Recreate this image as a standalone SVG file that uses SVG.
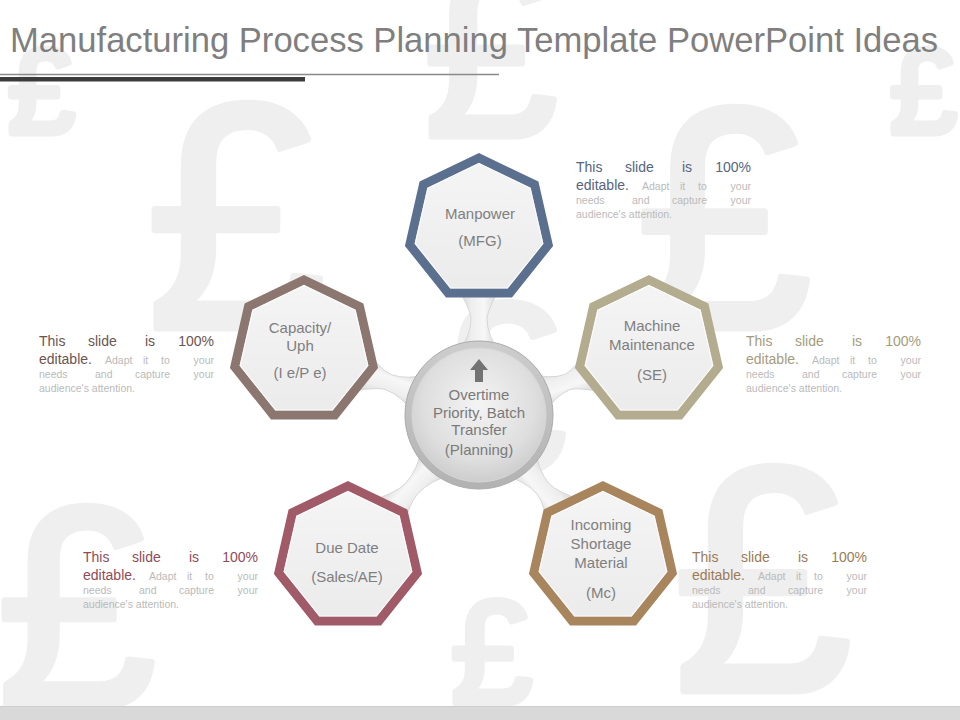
<svg xmlns="http://www.w3.org/2000/svg" xmlns:xlink="http://www.w3.org/1999/xlink" width="960" height="720" viewBox="0 0 960 720">
<defs>
<style>
text{font-family:"Liberation Sans",Arial,sans-serif}
.bg{fill:#efefef;stroke:#efefef;stroke-width:7;stroke-linejoin:round}
.nt{font-size:15px;fill:#7f7f7f;text-anchor:middle}
.ct{font-size:15px;fill:#7a7a7a;text-anchor:middle}
.big{font-size:14px}
.sm{font-size:10.5px;fill:#bababa}
.e{text-anchor:end}
.band{stroke-width:9;stroke-linejoin:miter;fill:url(#hfill)}
.inner{fill:none;stroke:#ffffff;stroke-width:1.2;stroke-opacity:0.8}
.tube{fill:url(#tube);stroke:#d2d2d2;stroke-width:0.8}
</style>
<linearGradient id="hfill" x1="0" y1="0" x2="0" y2="1">
<stop offset="0" stop-color="#f5f5f5"/>
<stop offset="1" stop-color="#ebebeb"/>
</linearGradient>
<linearGradient id="tube" x1="0" y1="0" x2="0" y2="1">
<stop offset="0" stop-color="#c8c8c8"/>
<stop offset="0.35" stop-color="#eeeeee"/>
<stop offset="0.6" stop-color="#f7f7f7"/>
<stop offset="1" stop-color="#c6c6c6"/>
</linearGradient>
<radialGradient id="cfill" cx="0.5" cy="0.42" r="0.6">
<stop offset="0" stop-color="#f4f4f4"/>
<stop offset="0.7" stop-color="#dedede"/>
<stop offset="1" stop-color="#cbcbcb"/>
</radialGradient>
<linearGradient id="cring" x1="0" y1="0" x2="0" y2="1">
<stop offset="0" stop-color="#cdcdcd"/>
<stop offset="1" stop-color="#b2b2b2"/>
</linearGradient>
<polygon id="hept" points="0,-71 55.51,-44.27 69.22,15.8 30.81,63.97 -30.81,63.97 -69.22,15.8 -55.51,-44.27"/>
<polygon id="hin" points="0,-65.5 51.21,-40.84 63.86,14.58 28.42,59.01 -28.42,59.01 -63.86,14.58 -51.21,-40.84"/>
</defs>

<rect x="0" y="0" width="960" height="720" fill="#ffffff"/>

<g id="background">
<text class="bg" x="8" y="133" font-size="120">£</text>
<text class="bg" x="146" y="328" font-size="322">£</text>
<text class="bg" x="424" y="136" font-size="240">£</text>
<text class="bg" x="636" y="328" font-size="316">£</text>
<text class="bg" x="890" y="133" font-size="120">£</text>
<text class="bg" x="432" y="471" font-size="242">£</text>
<text class="bg" x="-3" y="706" font-size="286">£</text>
<text class="bg" x="673" y="691" font-size="322">£</text>
<text class="bg" x="451" y="703" font-size="146">£</text>
</g>

<rect x="0" y="706" width="960" height="14" fill="#d9d9d9"/>
<line x1="0" y1="706.5" x2="960" y2="706.5" stroke="#cdcdcd" stroke-width="1"/>

<g id="title">
<text x="10" y="52" font-size="34.5" fill="#7f7f7f" textLength="928" lengthAdjust="spacingAndGlyphs">Manufacturing Process Planning Template PowerPoint Ideas</text>
<line x1="0" y1="74.5" x2="499" y2="74.5" stroke="#8a8a8a" stroke-width="1.5"/>
<rect x="0" y="77" width="305" height="4.5" fill="#3c3c3c"/>
</g>

<g id="connectors">
<path class="tube" transform="translate(479,415) rotate(-90)" d="M60 -22 Q80 -8 96 -8 Q105.5 -8 135.5 -26 L135.5 26 Q105.5 8 96 8 Q80 8 60 22 Z"/>
<path class="tube" transform="translate(479,415) rotate(-160.06)" d="M60 -22 Q80 -8 96 -8 Q106.2 -8 136.2 -26 L136.2 26 Q106.2 8 96 8 Q80 8 60 22 Z"/>
<path class="tube" transform="translate(479,415) rotate(-20.48)" d="M60 -22 Q80 -8 94 -8 Q101.5 -8 131.5 -26 L131.5 26 Q101.5 8 94 8 Q80 8 60 22 Z"/>
<path class="tube" transform="translate(479,415) rotate(132.5)" d="M60 -22 Q80 -8 100 -8 Q113.9 -8 143.9 -26 L143.9 26 Q113.9 8 100 8 Q80 8 60 22 Z"/>
<path class="tube" transform="translate(479,415) rotate(49.07)" d="M60 -22 Q80 -8 97.6 -8 Q109.3 -8 139.3 -26 L139.3 26 Q109.3 8 97.6 8 Q80 8 60 22 Z"/>
</g>

<g id="center">
<circle cx="479" cy="415" r="74" fill="url(#cring)" stroke="#aaaaaa" stroke-width="1"/>
<circle cx="479" cy="415" r="67" fill="url(#cfill)" stroke="#d6d6d6" stroke-width="1"/>
<polygon points="479,359 488,370 483,370 483,382 475,382 475,370 470,370" fill="#737373"/>
<text class="ct" x="479" y="400">Overtime</text>
<text class="ct" x="479" y="418">Priority, Batch</text>
<text class="ct" x="479" y="435">Transfer</text>
<text class="ct" x="479" y="455">(Planning)</text>
</g>

<g id="manpower">
<use xlink:href="#hept" href="#hept" class="band" stroke="#5b6f8e" transform="translate(479,229)"/>
<use xlink:href="#hin" href="#hin" class="inner" transform="translate(479,229)"/>
<text class="nt" x="480" y="219">Manpower</text>
<text class="nt" x="480" y="246">(MFG)</text>
</g>

<g id="capacity">
<use xlink:href="#hept" href="#hept" class="band" stroke="#8c7770" transform="translate(304,351)"/>
<use xlink:href="#hin" href="#hin" class="inner" transform="translate(304,351)"/>
<text class="nt" x="300" y="333">Capacity/</text>
<text class="nt" x="300" y="351">Uph</text>
<text class="nt" x="300" y="378">(I e/P e)</text>
</g>

<g id="machine">
<use xlink:href="#hept" href="#hept" class="band" stroke="#b3ac8e" transform="translate(649,351)"/>
<use xlink:href="#hin" href="#hin" class="inner" transform="translate(649,351)"/>
<text class="nt" x="652" y="331">Machine</text>
<text class="nt" x="652" y="350">Maintenance</text>
<text class="nt" x="652" y="380">(SE)</text>
</g>

<g id="duedate">
<use xlink:href="#hept" href="#hept" class="band" stroke="#a05a68" transform="translate(348,557)"/>
<use xlink:href="#hin" href="#hin" class="inner" transform="translate(348,557)"/>
<text class="nt" x="347" y="553">Due Date</text>
<text class="nt" x="347" y="582">(Sales/AE)</text>
</g>

<g id="incoming">
<use xlink:href="#hept" href="#hept" class="band" stroke="#a9855e" transform="translate(603,557)"/>
<use xlink:href="#hin" href="#hin" class="inner" transform="translate(603,557)"/>
<text class="nt" x="601" y="530">Incoming</text>
<text class="nt" x="601" y="549">Shortage</text>
<text class="nt" x="601" y="568">Material</text>
<text class="nt" x="601" y="598">(Mc)</text>
</g>

<g id="text-manpower" transform="translate(576,172)" fill="#56657e">
<text class="big" y="0"><tspan x="0">This</tspan><tspan x="49">slide</tspan><tspan x="106">is</tspan></text>
<text class="big e" x="175" y="0">100%</text>
<text y="18"><tspan class="big" x="0">editable.</tspan><tspan class="sm" x="66">Adapt</tspan><tspan class="sm" x="104">it</tspan><tspan class="sm" x="122">to</tspan></text>
<text class="sm e" x="175" y="18">your</text>
<text class="sm" y="32"><tspan x="0">needs</tspan><tspan x="56">and</tspan><tspan x="96">capture</tspan></text>
<text class="sm e" x="175" y="32">your</text>
<text class="sm" x="0" y="46">audience's attention.</text>
</g>

<g id="text-capacity" transform="translate(39,346)" fill="#6b5550">
<text class="big" y="0"><tspan x="0">This</tspan><tspan x="49">slide</tspan><tspan x="106">is</tspan></text>
<text class="big e" x="175" y="0">100%</text>
<text y="18"><tspan class="big" x="0">editable.</tspan><tspan class="sm" x="66">Adapt</tspan><tspan class="sm" x="104">it</tspan><tspan class="sm" x="122">to</tspan></text>
<text class="sm e" x="175" y="18">your</text>
<text class="sm" y="32"><tspan x="0">needs</tspan><tspan x="56">and</tspan><tspan x="96">capture</tspan></text>
<text class="sm e" x="175" y="32">your</text>
<text class="sm" x="0" y="46">audience's attention.</text>
</g>

<g id="text-machine" transform="translate(746,346)" fill="#a49c7c">
<text class="big" y="0"><tspan x="0">This</tspan><tspan x="49">slide</tspan><tspan x="106">is</tspan></text>
<text class="big e" x="175" y="0">100%</text>
<text y="18"><tspan class="big" x="0">editable.</tspan><tspan class="sm" x="66">Adapt</tspan><tspan class="sm" x="104">it</tspan><tspan class="sm" x="122">to</tspan></text>
<text class="sm e" x="175" y="18">your</text>
<text class="sm" y="32"><tspan x="0">needs</tspan><tspan x="56">and</tspan><tspan x="96">capture</tspan></text>
<text class="sm e" x="175" y="32">your</text>
<text class="sm" x="0" y="46">audience's attention.</text>
</g>

<g id="text-duedate" transform="translate(83,562)" fill="#8f4b5a">
<text class="big" y="0"><tspan x="0">This</tspan><tspan x="49">slide</tspan><tspan x="106">is</tspan></text>
<text class="big e" x="175" y="0">100%</text>
<text y="18"><tspan class="big" x="0">editable.</tspan><tspan class="sm" x="66">Adapt</tspan><tspan class="sm" x="104">it</tspan><tspan class="sm" x="122">to</tspan></text>
<text class="sm e" x="175" y="18">your</text>
<text class="sm" y="32"><tspan x="0">needs</tspan><tspan x="56">and</tspan><tspan x="96">capture</tspan></text>
<text class="sm e" x="175" y="32">your</text>
<text class="sm" x="0" y="46">audience's attention.</text>
</g>

<g id="text-incoming" transform="translate(692,562)" fill="#9b7b56">
<text class="big" y="0"><tspan x="0">This</tspan><tspan x="49">slide</tspan><tspan x="106">is</tspan></text>
<text class="big e" x="175" y="0">100%</text>
<text y="18"><tspan class="big" x="0">editable.</tspan><tspan class="sm" x="66">Adapt</tspan><tspan class="sm" x="104">it</tspan><tspan class="sm" x="122">to</tspan></text>
<text class="sm e" x="175" y="18">your</text>
<text class="sm" y="32"><tspan x="0">needs</tspan><tspan x="56">and</tspan><tspan x="96">capture</tspan></text>
<text class="sm e" x="175" y="32">your</text>
<text class="sm" x="0" y="46">audience's attention.</text>
</g>
</svg>
